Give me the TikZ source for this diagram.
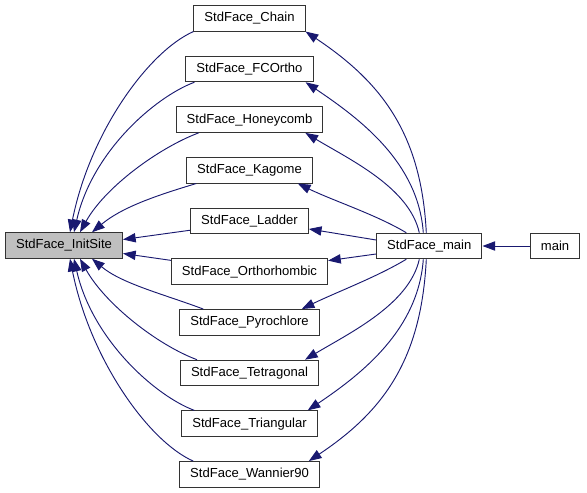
\documentclass[tikz,border=0pt]{standalone}
\usepackage{fontspec}
\setmainfont{Liberation Sans}
\usetikzlibrary{arrows.meta,positioning,calc}
\definecolor{edgeblue}{HTML}{191970}
\definecolor{grey75}{HTML}{BFBFBF}

\begin{document}
\begin{tikzpicture}[
  x=0.75pt, y=-0.75pt,
  node distance=18.1pt,
  fn/.style={
    rectangle, draw=black!80, line width=0.8pt,
    minimum height=19.1pt, inner xsep=7.9pt,
    font=\fontsize{9.8}{11}\selectfont},
  call/.style={
    draw=edgeblue, line width=0.7pt,
    -{Triangle[length=9.5pt, width=7pt]}},
]
  \useasboundingbox (0,0) rectangle (587,493);

  \node[fn, fill=grey75] (init) at (64,245.5) {StdFace\_InitSite};

  \node[fn]                   (chain)     at (249.5,18.3) {StdFace\_Chain};
  \node[fn, below=of chain]     (fcortho)   {StdFace\_FCOrtho};
  \node[fn, below=of fcortho]   (honeycomb) {StdFace\_Honeycomb};
  \node[fn, below=of honeycomb] (kagome)    {StdFace\_Kagome};
  \node[fn, below=of kagome]    (ladder)    {StdFace\_Ladder};
  \node[fn, below=of ladder]    (ortho)     {StdFace\_Orthorhombic};
  \node[fn, below=of ortho]     (pyro)      {StdFace\_Pyrochlore};
  \node[fn, below=of pyro]      (tetra)     {StdFace\_Tetragonal};
  \node[fn, below=of tetra]     (tri)       {StdFace\_Triangular};
  \node[fn, below=of tri]       (wannier)   {StdFace\_Wannier90};

  \node[fn] (sfmain) at (429.3,246) {StdFace\_main};
  \node[fn, right=35.5pt of sfmain] (main) {main};

  \draw[call] (main) -- (sfmain);

  % StdFace_main -> lattices
  \draw[call] ($(sfmain.north)+(-3,0)$)
      .. controls +(-5,-100) and +(75,50) .. (chain.south east);
  \draw[call] ($(sfmain.north)+(-6,0)$)
      .. controls +(-5,-70) and +(55,37) .. ($(fcortho.south east)+(-8,0)$);
  \draw[call] ($(sfmain.north)+(-10,0)$)
      .. controls +(-10,-45) and +(45,27) .. ($(honeycomb.south east)+(-18,0)$);
  \draw[call] ($(sfmain.north)+(-23,0)$)
      .. controls +(-30,-18) and +(35,17) .. ($(kagome.south east)+(-15,0)$);
  \draw[call] ($(sfmain.west)+(0,-6)$) -- ($(ladder.east)+(0,8)$);
  \draw[call] ($(sfmain.west)+(0,8)$) -- ($(ortho.east)+(0,-11)$);
  \draw[call] ($(sfmain.south)+(-23,0)$)
      .. controls +(-30,18) and +(35,-17) .. ($(pyro.north east)+(-18,0)$);
  \draw[call] ($(sfmain.south)+(-10,0)$)
      .. controls +(-10,45) and +(45,-27) .. ($(tetra.north east)+(-14,0)$);
  \draw[call] ($(sfmain.south)+(-6,0)$)
      .. controls +(-5,70) and +(55,-37) .. ($(tri.north east)+(-10,0)$);
  \draw[call] ($(sfmain.south)+(-3,0)$)
      .. controls +(-5,100) and +(75,-50) .. ($(wannier.north east)+(-11,0)$);

  % lattices -> StdFace_InitSite
  \draw[call] (chain.south west)
      .. controls +(-45,20) and +(20,-100) .. ($(init.north)+(6,0)$);
  \draw[call] ($(fcortho.south west)+(9,0)$)
      .. controls +(-40,15) and +(18,-80) .. ($(init.north)+(10,0)$);
  \draw[call] ($(honeycomb.south west)+(23,0)$)
      .. controls +(-40,15) and +(25,-45) .. ($(init.north)+(16,0)$);
  \draw[call] ($(kagome.south west)+(10,0)$)
      .. controls +(-40,12) and +(30,-25) .. ($(init.north)+(28,0)$);
  \draw[call] ($(ladder.south west)+(0,-4)$) -- ($(init.east)+(0,-6)$);
  \draw[call] ($(ortho.north west)+(0,2)$) -- ($(init.east)+(0,8)$);
  \draw[call] ($(pyro.north west)+(24,0)$)
      .. controls +(-40,-15) and +(30,25) .. ($(init.south)+(28,0)$);
  \draw[call] ($(tetra.north west)+(17,0)$)
      .. controls +(-40,-15) and +(25,45) .. ($(init.south)+(16,0)$);
  \draw[call] ($(tri.north west)+(13,0)$)
      .. controls +(-40,-15) and +(18,80) .. ($(init.south)+(10,0)$);
  \draw[call] ($(wannier.north west)+(14,0)$)
      .. controls +(-45,-20) and +(20,100) .. ($(init.south)+(6,0)$);
\end{tikzpicture}
\end{document}
